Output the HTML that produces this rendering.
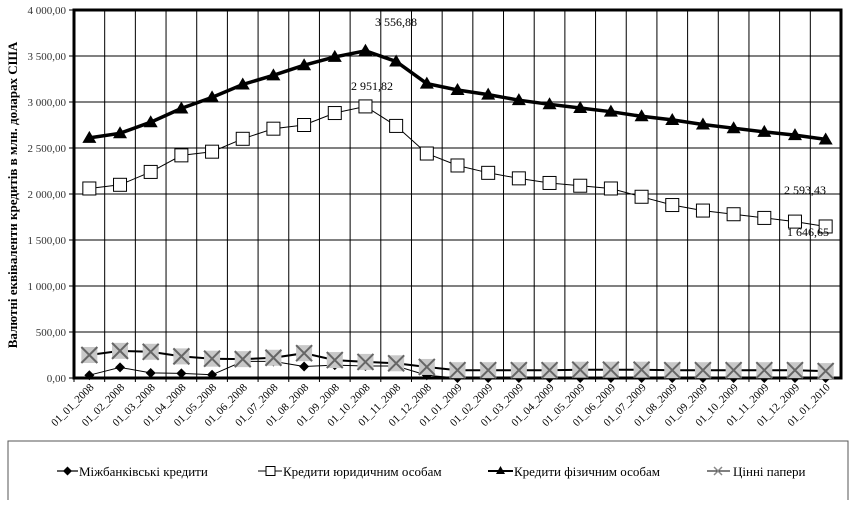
<!DOCTYPE html>
<html><head><meta charset="utf-8"><style>
body{margin:0;background:#fff;width:856px;height:500px;overflow:hidden}
svg{font-family:"Liberation Serif",serif}
</style></head><body>
<svg id="s" width="856" height="500" xmlns="http://www.w3.org/2000/svg">
<rect x="8" y="441" width="840" height="70" fill="none" stroke="#555" stroke-width="1"/>
<text transform="translate(17,195) rotate(-90)" text-anchor="middle" font-size="13" font-weight="bold">Валютні еквіваленти кредитів в млн. доларах США</text>
<g font-size="13" fill="#000">
<line x1="57" y1="471" x2="78" y2="471" stroke="#000" stroke-width="1.2"/><path d="M67.5 466.5l4.5 4.5-4.5 4.5-4.5-4.5z"/>
<text x="79" y="476">Міжбанківські кредити</text>
<line x1="258" y1="471" x2="282" y2="471" stroke="#000"/><rect x="266" y="466.5" width="9" height="9" fill="#fff" stroke="#000"/>
<text x="283" y="476">Кредити юридичним особам</text>
<line x1="488" y1="471" x2="513" y2="471" stroke="#000" stroke-width="2"/><path d="M500.5 466l4.5 8h-9z"/>
<text x="514" y="476">Кредити фізичним особам</text>
<line x1="707" y1="471" x2="730" y2="471" stroke="#000"/><path d="M714 467l8 8M722 467l-8 8" stroke="#888" stroke-width="1.5"/>
<text x="733" y="476">Цінні папери</text>
</g>
</svg>
<script>
const s=document.getElementById('s'),NS='http://www.w3.org/2000/svg';
function el(t,a,txt){const e=document.createElementNS(NS,t);for(const k in a)e.setAttribute(k,a[k]);if(txt!=null)e.textContent=txt;s.appendChild(e);return e;}
const L=74,R=841,T=10,B=378,W=(R-L)/25;
const y=v=>B-v*(B-T)/4000, x=i=>L+W*(i+0.5);
for(let k=0;k<=8;k++){const yy=y(k*500);el('line',{x1:L,x2:R,y1:yy,y2:yy,stroke:'#000','stroke-width':1});
el('line',{x1:L-5,x2:L,y1:yy,y2:yy,stroke:'#000'});
el('text',{x:L-8,y:yy+4,'text-anchor':'end','font-size':11,fill:'#333'},(k*500>=1000?Math.floor(k*500/1000)+'\u00a0'+String(k*500%1000).padStart(3,'0'):String(k*500))+',00');}
for(let i=1;i<25;i++){const xx=L+W*i;el('line',{x1:xx,x2:xx,y1:T,y2:B,stroke:'#000','stroke-width':1});}
el('rect',{x:L,y:T,width:R-L,height:B-T,fill:'none',stroke:'#000','stroke-width':3});
const labs=[];for(let yr=2008;yr<=2009;yr++)for(let m=1;m<=12;m++)labs.push('01_'+String(m).padStart(2,'0')+'_'+yr);labs.push('01_01_2010');
labs.forEach((t,i)=>{el('line',{x1:L+W*i,x2:L+W*i,y1:B,y2:B+4,stroke:'#000'});
el('text',{transform:`translate(${x(i)+5},${B+10}) rotate(-45)`,'text-anchor':'end','font-size':11},t);});
const phys=[2610,2660,2780,2930,3050,3190,3290,3400,3490,3557,3440,3200,3130,3080,3020,2975,2935,2895,2845,2805,2755,2715,2675,2640,2593];
const leg=[2060,2100,2240,2420,2460,2600,2710,2750,2880,2952,2740,2440,2310,2230,2170,2120,2090,2060,1970,1880,1820,1780,1740,1700,1647];
const sec=[250,295,285,235,210,205,220,270,195,175,160,120,85,85,85,85,90,90,90,85,85,85,85,85,75];
const ib=[30,115,55,50,35,180,180,125,140,130,130,30,0,0,0,0,0,0,0,0,0,0,0,0,0];
const pts=a=>a.map((v,i)=>x(i).toFixed(1)+','+y(v).toFixed(1)).join(' ');
el('polyline',{points:pts(ib),fill:'none',stroke:'#000','stroke-width':1});
ib.forEach((v,i)=>el('path',{d:`M${x(i)} ${y(v)-5}l5 5-5 5-5-5z`,fill:'#000'}));
el('polyline',{points:pts(sec),fill:'none',stroke:'#000','stroke-width':2});
sec.forEach((v,i)=>{const X=x(i),Y=y(v);el('rect',{x:X-8,y:Y-8,width:16,height:16,fill:'#c8c8c8'});el('path',{d:`M${X-8} ${Y-8}l16 16M${X+8} ${Y-8}l-16 16`,stroke:'#666','stroke-width':2});});
el('polyline',{points:pts(leg),fill:'none',stroke:'#000','stroke-width':1});
leg.forEach((v,i)=>el('rect',{x:x(i)-6.5,y:y(v)-6.5,width:13,height:13,fill:'#fff',stroke:'#000'}));
el('polyline',{points:pts(phys),fill:'none',stroke:'#000','stroke-width':3.5});
phys.forEach((v,i)=>el('path',{d:`M${x(i)} ${y(v)-7}l7 12h-14z`,fill:'#000'}));
[['3\u00a0556,88',396,26],['2\u00a0951,82',372,90],['2\u00a0593,43',805,194],['1\u00a0646,65',808,236]].forEach(a=>el('text',{x:a[1],y:a[2],'text-anchor':'middle','font-size':12},a[0]));
</script>
</body></html>
